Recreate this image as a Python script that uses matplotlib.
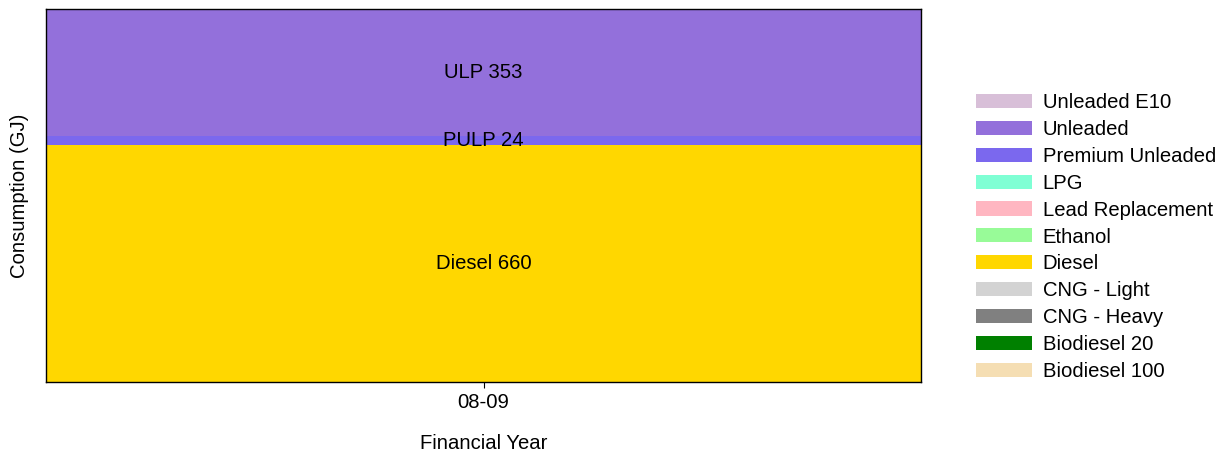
import matplotlib
matplotlib.use("Agg")
import matplotlib.pyplot as plt
from matplotlib.patches import Patch

plt.rcParams['font.family'] = ['Liberation Sans', 'DejaVu Sans']

years = ["08-09"]
fuels = ["Diesel", "Premium Unleaded", "Unleaded"]
fuel_short = ["Diesel", "PULP", "ULP"]
values = {"Diesel": [660], "Premium Unleaded": [24], "Unleaded": [353]}

legend_labels = ["Unleaded E10", "Unleaded", "Premium Unleaded", "LPG",
                 "Lead Replacement", "Ethanol", "Diesel", "CNG - Light",
                 "CNG - Heavy", "Biodiesel 20", "Biodiesel 100"]
legend_colors = ["#D8BFD8", "#9370DB", "#7B68EE", "#7FFFD4", "#FFB6C1",
                 "#98FB98", "#FFD700", "#D3D3D3", "#808080", "#008000", "#F5DEB3"]
color_map = dict(zip(legend_labels, legend_colors))

FS = 14.6

fig = plt.figure(figsize=(12.21, 4.55), dpi=100)
ax = fig.add_axes([46/1221, 1-382/455, (921-46)/1221, (382-9)/455])

x = list(range(len(years)))
bottom = [0]*len(years)
for f, s in zip(fuels, fuel_short):
    v = values[f]
    ax.bar(x, v, width=1.0, bottom=bottom, color=color_map[f], linewidth=0)
    for i in range(len(years)):
        ax.text(x[i], bottom[i] + v[i]/2, f"{s} {v[i]}", ha='center', va='center',
                fontsize=FS, color='black')
    bottom = [b + vv for b, vv in zip(bottom, v)]

ax.set_xlim(-0.5, len(years)-0.5)
ax.set_ylim(0, max(bottom))
ax.set_xticks(x)
ax.set_xticklabels(years, fontsize=FS)
ax.set_yticks([])
ax.tick_params(axis='x', length=4, pad=4)
ax.set_xlabel("Financial Year", fontsize=FS, labelpad=16)
ax.set_ylabel("Consumption (GJ)", fontsize=FS, labelpad=12)
for sp in ax.spines.values():
    sp.set_linewidth(1.0)
    sp.set_color('black')

handles = [Patch(facecolor=c, edgecolor='none') for c in legend_colors]
fig.legend(handles, legend_labels, loc='upper left', bbox_to_anchor=(976/1221, 1-93/455),
           frameon=False, fontsize=FS, handlelength=2.75, handleheight=0.69,
           labelspacing=0.39, handletextpad=0.54, borderaxespad=0, borderpad=0)

fig.savefig("out.png", dpi=100)
